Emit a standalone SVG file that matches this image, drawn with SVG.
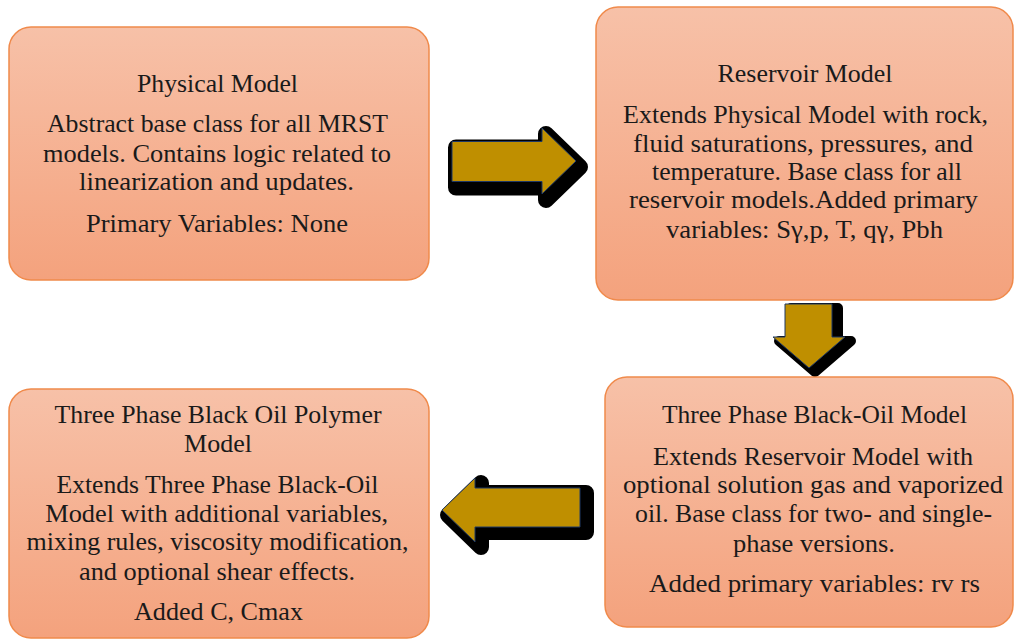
<svg xmlns="http://www.w3.org/2000/svg" width="1014" height="639" viewBox="0 0 1014 639">
<defs>
<linearGradient id="boxfill" x1="0" y1="0" x2="0" y2="1">
<stop offset="0" stop-color="#F7C1A8"/>
<stop offset="1" stop-color="#F4A27D"/>
</linearGradient>
<style>
.box{fill:url(#boxfill);stroke:#F08A4B;stroke-width:1.5}
.t{font-size:26px;fill:#1A1A1A;text-anchor:middle}
.arrow{fill:#BF8F00;stroke:#1F3864;stroke-width:1;stroke-linejoin:miter}
.shadow{fill:#000;stroke:#000;stroke-width:16;stroke-linejoin:round}
</style>
</defs>
<rect width="1014" height="639" fill="#FFFFFF"/>

<g id="connectors">
<g id="arrow-right">
<polygon class="shadow" transform="translate(4,6)" points="452,141.5 542,141.5 542,128 576,161 542,194 542,181.5 452,181.5"/>
<polygon class="arrow" points="452,141.5 542,141.5 542,128 576,161 542,194 542,181.5 452,181.5"/>
</g>
<g id="arrow-down">
<polygon class="shadow" style="stroke-width:10" transform="translate(6,4)" points="785,304 832,304 832,337 845,337 809,368 773,337 785,337"/>
<polygon class="arrow" points="785,304 832,304 832,337 845,337 809,368 773,337 785,337"/>
</g>
<g id="arrow-left">
<polygon class="shadow" transform="translate(6,5)" points="580,488 580,527 475,527 475,542 442,510 475,478 475,488"/>
<polygon class="arrow" points="580,488 580,527 475,527 475,542 442,510 475,478 475,488"/>
</g>
</g>

<g id="physical-model" font-family="'Liberation Serif', 'DejaVu Serif', serif">
<rect class="box" x="9" y="27" width="420" height="253" rx="22"/>
<text class="t" x="217.5" y="92" textLength="161" lengthAdjust="spacingAndGlyphs">Physical Model</text>
<text class="t" x="217.5" y="132" textLength="341" lengthAdjust="spacingAndGlyphs">Abstract base class for all MRST</text>
<text class="t" x="217" y="162" textLength="348" lengthAdjust="spacingAndGlyphs">models. Contains logic related to</text>
<text class="t" x="216.5" y="190" textLength="275" lengthAdjust="spacingAndGlyphs">linearization and updates.</text>
<text class="t" x="217" y="232" textLength="262" lengthAdjust="spacingAndGlyphs">Primary Variables: None</text>
</g>

<g id="reservoir-model" font-family="'Liberation Serif', 'DejaVu Serif', serif">
<rect class="box" x="596" y="7" width="417" height="293" rx="22"/>
<text class="t" x="805" y="82" textLength="175" lengthAdjust="spacingAndGlyphs">Reservoir Model</text>
<text class="t" x="805.5" y="123" textLength="365" lengthAdjust="spacingAndGlyphs">Extends Physical Model with rock,</text>
<text class="t" x="803" y="152" textLength="340" lengthAdjust="spacingAndGlyphs">fluid saturations, pressures, and</text>
<text class="t" x="807" y="180" textLength="310" lengthAdjust="spacingAndGlyphs">temperature. Base class for all</text>
<text class="t" x="803.5" y="208" textLength="349" lengthAdjust="spacingAndGlyphs">reservoir models.Added primary</text>
<text class="t" x="804.5" y="238" textLength="277" lengthAdjust="spacingAndGlyphs">variables:  Sγ,p, T, qγ, Pbh</text>
</g>

<g id="black-oil-model" font-family="'Liberation Serif', 'DejaVu Serif', serif">
<rect class="box" x="605" y="377" width="408" height="250" rx="22"/>
<text class="t" x="814.5" y="423" textLength="305" lengthAdjust="spacingAndGlyphs">Three Phase Black-Oil Model</text>
<text class="t" x="813" y="465" textLength="320" lengthAdjust="spacingAndGlyphs">Extends Reservoir Model with</text>
<text class="t" x="813" y="493" textLength="380" lengthAdjust="spacingAndGlyphs">optional solution gas and vaporized</text>
<text class="t" x="813.5" y="522" textLength="357" lengthAdjust="spacingAndGlyphs">oil. Base class for two- and single-</text>
<text class="t" x="814" y="552" textLength="162" lengthAdjust="spacingAndGlyphs">phase versions.</text>
<text class="t" x="814.5" y="592" textLength="331" lengthAdjust="spacingAndGlyphs">Added primary variables: rv rs</text>
</g>

<g id="polymer-model" font-family="'Liberation Serif', 'DejaVu Serif', serif">
<rect class="box" x="9" y="389" width="420" height="249" rx="22"/>
<text class="t" x="218" y="423" textLength="327" lengthAdjust="spacingAndGlyphs">Three Phase Black Oil  Polymer</text>
<text class="t" x="218" y="452" textLength="68" lengthAdjust="spacingAndGlyphs">Model</text>
<text class="t" x="217.5" y="493" textLength="322" lengthAdjust="spacingAndGlyphs">Extends Three Phase Black-Oil</text>
<text class="t" x="216.7" y="522" textLength="343" lengthAdjust="spacingAndGlyphs">Model with additional  variables,</text>
<text class="t" x="217.5" y="550" textLength="382" lengthAdjust="spacingAndGlyphs">mixing rules, viscosity modification,</text>
<text class="t" x="217" y="580" textLength="276" lengthAdjust="spacingAndGlyphs">and optional shear effects.</text>
<text class="t" x="218.5" y="620" textLength="169" lengthAdjust="spacingAndGlyphs">Added C, Cmax</text>
</g>
</svg>
